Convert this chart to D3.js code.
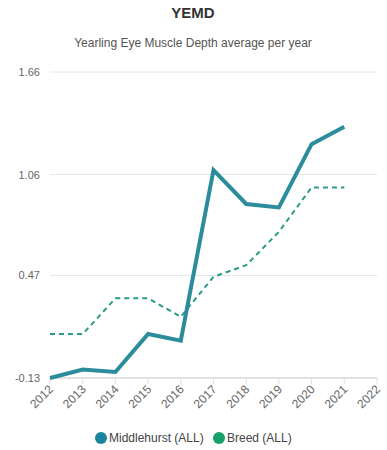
<!DOCTYPE html>
<html>
<head>
  <meta charset="utf-8">
  <title>YEMD</title>
  <script src="https://d3js.org/d3.v7.min.js"></script>
  <style>
    body { margin: 0; background: #fff; font-family: "Liberation Sans", Arial, sans-serif; }
    .grid line { stroke: #e6e6e6; }
    .ylab { font-size: 11px; fill: #666; }
    .xlab { font-size: 12px; fill: #666; }
  </style>
</head>
<body>
  <svg width="387" height="450"></svg>
  <script>
    // Chart data
    const years = [2012, 2013, 2014, 2015, 2016, 2017, 2018, 2019, 2020, 2021];
    const xTicks = [2012, 2013, 2014, 2015, 2016, 2017, 2018, 2019, 2020, 2021, 2022];
    const middlehurst = [-0.13, -0.08, -0.095, 0.127, 0.088, 1.086, 0.888, 0.868, 1.238, 1.34];
    const breed = [0.127, 0.127, 0.336, 0.336, 0.228, 0.462, 0.53, 0.725, 0.985, 0.985];
    const yTicks = [-0.13, 0.47, 1.06, 1.66];

    const svg = d3.select("svg");

    const x = d3.scaleLinear().domain([2012, 2022]).range([50, 377]);
    const y = d3.scaleLinear().domain([-0.13, 1.66]).range([378, 72]);

    // Title and subtitle
    svg.append("text").attr("x", 193).attr("y", 18)
      .attr("text-anchor", "middle")
      .style("font-size", "15px").style("font-weight", "bold").style("fill", "#333")
      .text("YEMD");
    svg.append("text").attr("x", 193).attr("y", 47)
      .attr("text-anchor", "middle")
      .style("font-size", "12px").style("fill", "#555")
      .text("Yearling Eye Muscle Depth average per year");

    // Grid lines + y labels
    const grid = svg.append("g").attr("class", "grid");
    grid.selectAll("line").data(yTicks).join("line")
      .attr("x1", 50).attr("x2", 377)
      .attr("y1", d => y(d)).attr("y2", d => y(d))
      .style("stroke", (d, i) => i === 0 ? "#d9d9d9" : "#e6e6e6")
      .style("stroke-width", (d, i) => i === 0 ? 1.5 : 1);

    svg.selectAll(".ylab").data(yTicks).join("text")
      .attr("class", "ylab")
      .attr("x", 40).attr("y", d => y(d) + 4)
      .attr("text-anchor", "end")
      .text(d => d.toFixed(2));

    // X ticks and rotated labels
    svg.selectAll(".xtick").data(xTicks).join("line")
      .attr("class", "xtick")
      .attr("x1", d => x(d)).attr("x2", d => x(d))
      .attr("y1", 378).attr("y2", 384)
      .style("stroke", "#e0e0e0");

    svg.selectAll(".xlab").data(xTicks).join("text")
      .attr("class", "xlab")
      .attr("text-anchor", "end")
      .attr("transform", d => `translate(${x(d) + 4},${390}) rotate(-45)`)
      .text(d => d);

    // Lines
    const line = (vals) => d3.line()
      .x((d, i) => x(years[i]))
      .y(d => y(d))(vals);

    svg.append("path")
      .attr("d", line(breed))
      .style("fill", "none")
      .style("stroke", "#2a9c86")
      .style("stroke-width", 2)
      .style("stroke-dasharray", "5,4");

    svg.append("path")
      .attr("d", line(middlehurst))
      .style("fill", "none")
      .style("stroke", "#2b8d9b")
      .style("stroke-width", 4)
      .style("stroke-linejoin", "miter");

    // Legend
    const legend = [
      { name: "Middlehurst (ALL)", color: "#1b85a0", cx: 101 },
      { name: "Breed (ALL)", color: "#16a06a", cx: 219 }
    ];
    const lg = svg.selectAll(".lg").data(legend).join("g").attr("class", "lg");
    lg.append("circle").attr("cx", d => d.cx).attr("cy", 438).attr("r", 6)
      .style("fill", d => d.color);
    lg.append("text").attr("x", d => d.cx + 8).attr("y", 442)
      .style("font-size", "12px").style("fill", "#444")
      .text(d => d.name);
  </script>
</body>
</html>
